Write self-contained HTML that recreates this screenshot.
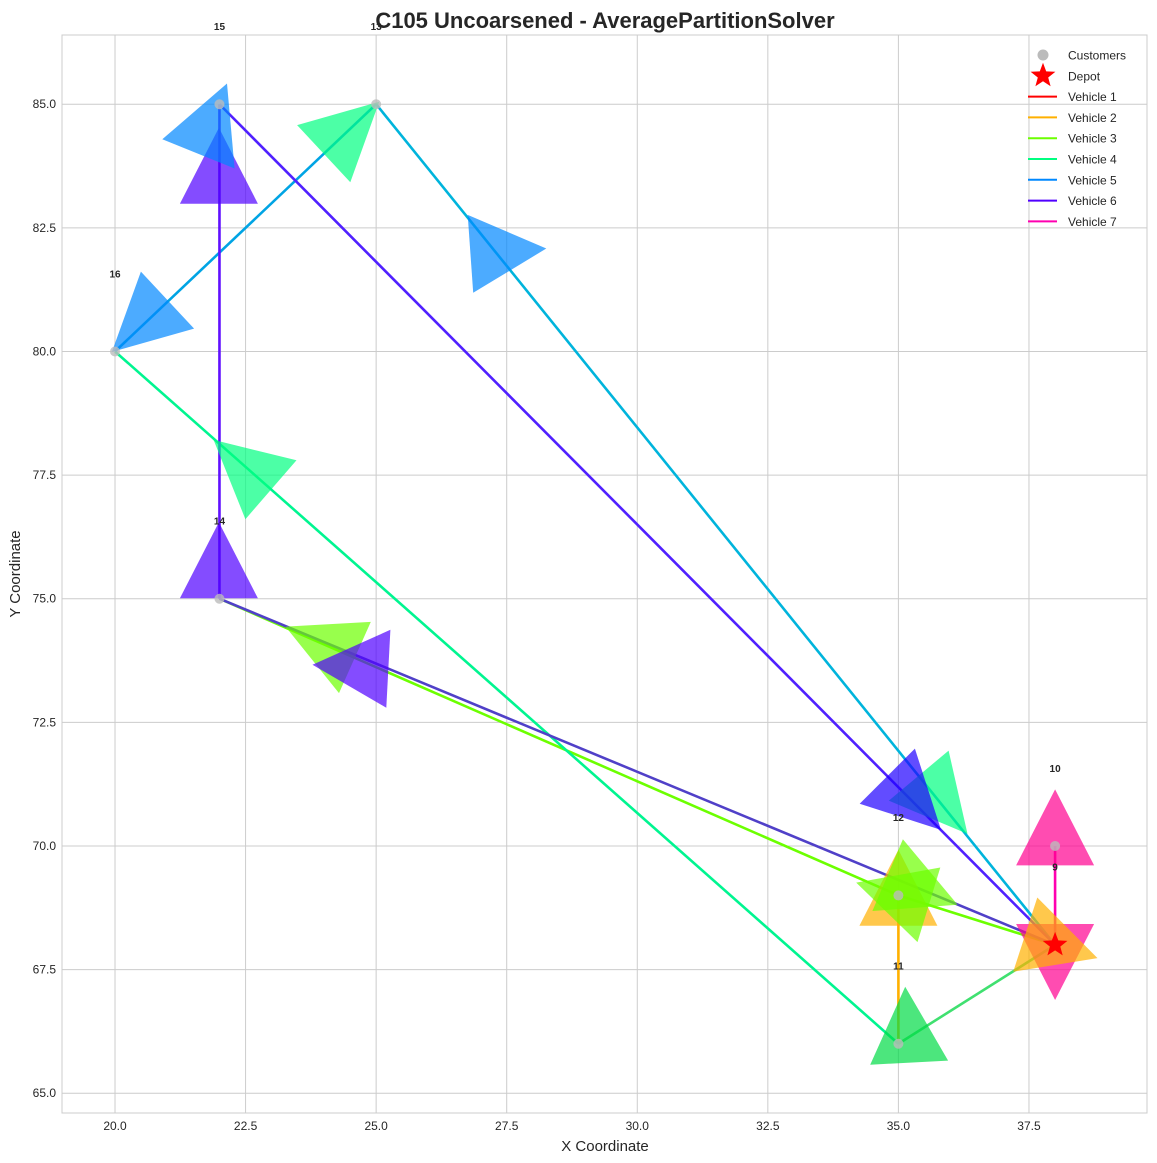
<!DOCTYPE html>
<html><head><meta charset="utf-8"><style>
body{margin:0;background:#fff;}
svg{display:block;font-family:"Liberation Sans",sans-serif;}
</style></head><body>
<svg id="chart" width="1157" height="1163" viewBox="0 0 1157 1163">
<rect x="0" y="0" width="1157" height="1163" fill="#fff"/>
<text x="605" y="28" text-anchor="middle" font-size="22" font-weight="bold" fill="#262626">C105 Uncoarsened - AveragePartitionSolver</text>
<g id="grid"></g>
<rect x="62" y="35" width="1085" height="1078" fill="none" stroke="#cccccc" stroke-width="1"/>
<g id="lines"></g>
<g id="arrows"></g>
<g id="nodes"></g>
<g id="ticks"></g>
<text x="605" y="1151" text-anchor="middle" font-size="15" fill="#262626">X Coordinate</text>
<text x="20" y="574" text-anchor="middle" font-size="15" fill="#262626" transform="rotate(-90 20 574)">Y Coordinate</text>
<g id="legend"></g>
</svg>
<script>
const xTicks=[20,22.5,25,27.5,30,32.5,35,37.5];
const yTicks=[65,67.5,70,72.5,75,77.5,80,82.5,85];
const customerIds=[9,10,11,12,13,14,15,16];
const customerX=[38,38,35,35,25,22,22,20];
const customerY=[68,70,66,69,85,75,85,80];
const depotXY=[38,68];
const vehicleNames=["Vehicle 1","Vehicle 2","Vehicle 3","Vehicle 4","Vehicle 5","Vehicle 6","Vehicle 7"];
const vehicleColors=["#ff0000","#ffb000","#6cff00","#00ff80","#0088ff","#5000ff","#ff00b0"];
const segFrom=[[35,69],[22,75],[35,69],[20,80],[35,66],[25,85],[20,80],[22,75],[22,85],[22,75],[38,70]];
const segTo=[[35,66],[35,69],[38,68],[35,66],[38,68],[38,68],[25,85],[22,85],[38,68],[38,68],[38,68]];
const segColor=["#ffb000","#6cff00","#6cff00","#00f590","#40e070","#00b4dc","#00a4e4","#6010ff","#5020ff","#5040c8","#ff00b0"];
const arrowX=[38,38,35.0,37.89,35.24,35.12,24.15,24.75,21.99,21.99,21.78,20.65,27.29,24.35,22.62,35.7,35.13,35.18];
const arrowY=[70.12,67.91,68.9,68.05,69.21,68.96,74.02,73.61,75.52,83.5,84.47,80.69,82.01,84.35,77.54,71.03,71.05,66.13];
const arrowAng=[-90,90,-90,18,23,197,204,183,-90,-90,-68,137,-4,-43,221,50,45,-93];
const arrowColor=["#ff0090","#ff0090","#ffb000","#ffb000","#6cff00","#6cff00","#6cff00","#5000ff","#5000ff","#5000ff","#0088ff","#0088ff","#0088ff","#00ff80","#00ff80","#00ff80","#2000ff","#00dc46"];

const X0=18.985,X1=39.76,Y0=64.6,Y1=86.4,L=62,R=1147,T=35,B=1113;
const sx=v=>L+(v-X0)/(X1-X0)*(R-L);
const sy=v=>B-(v-Y0)/(Y1-Y0)*(B-T);
const NS="http://www.w3.org/2000/svg";
function mk(tag,parent,attrs){const e=document.createElementNS(NS,tag);for(const k in attrs)e.setAttribute(k,attrs[k]);document.getElementById(parent).appendChild(e);return e;}

xTicks.forEach(t=>{
  const g=mk("line","grid",{x1:sx(t),x2:sx(t),y1:T,y2:B,stroke:"#cccccc","stroke-width":1});
  
  
  const tx=mk("text","ticks",{x:sx(t),y:B+17,"text-anchor":"middle","font-size":12,fill:"#262626"});
  tx.textContent=t.toFixed(1);
  
  
});
yTicks.forEach(t=>{
  const g=mk("line","grid",{x1:L,x2:R,y1:sy(t),y2:sy(t),stroke:"#cccccc","stroke-width":1});
  
  
  const tx=mk("text","ticks",{x:L-6,y:sy(t)+4,"text-anchor":"end","font-size":12,fill:"#262626"});
  tx.textContent=t.toFixed(1);
  
  
});
segFrom.forEach((f,i)=>{
  const l=mk("line","lines",{x1:sx(f[0]),y1:sy(f[1]),x2:sx(segTo[i][0]),y2:sy(segTo[i][1]),stroke:segColor[i],"stroke-width":2.6});
  
  
});
arrowX.forEach((x,i)=>{
  const cx=sx(x),cy=sy(arrowY[i]),a=arrowAng[i]*Math.PI/180;
  const h=76,w=78,ux=Math.cos(a),uy=Math.sin(a),px=-uy,py=ux;
  const tip=[cx+ux*h*2/3,cy+uy*h*2/3],bm=[cx-ux*h/3,cy-uy*h/3];
  const pts=[tip,[bm[0]+px*w/2,bm[1]+py*w/2],[bm[0]-px*w/2,bm[1]-py*w/2]].map(p=>p[0].toFixed(1)+","+p[1].toFixed(1)).join(" ");
  const p=mk("polygon","arrows",{points:pts,fill:arrowColor[i],"fill-opacity":0.7});
  
  
});
customerIds.forEach((id,i)=>{
  const c=mk("circle","nodes",{cx:sx(customerX[i]),cy:sy(customerY[i]),r:5,fill:"#bbbbbb","fill-opacity":0.8});
  
  
  const t=mk("text","nodes",{x:sx(customerX[i]),y:sy(customerY[i]+1.5),"text-anchor":"middle","font-size":10,"font-weight":"bold",fill:"#262626"});
  t.textContent=id;
  
  
});
function star(cx,cy,ro,ri){let s=[];for(let k=0;k<10;k++){const r=k%2?ri:ro,a=-Math.PI/2+k*Math.PI/5;s.push((cx+r*Math.cos(a)).toFixed(1)+","+(cy+r*Math.sin(a)).toFixed(1));}return s.join(" ");}
const d=mk("polygon","nodes",{points:star(sx(depotXY[0]),sy(depotXY[1]),13,5.5),fill:"#ff0000"});



const lg=[["Customers"],["Depot"]].concat(vehicleNames.map(n=>[n]));
lg.forEach((e,i)=>{
  const y=55+i*20.8;
  if(i===0){const c=mk("circle","legend",{cx:1043,cy:y,r:5.5,fill:"#bbbbbb"});}
  else if(i===1){const s=mk("polygon","legend",{points:star(1043,y,13,5.5),fill:"#ff0000"});}
  else{const l=mk("line","legend",{x1:1028,x2:1057,y1:y,y2:y,stroke:vehicleColors[i-2],"stroke-width":2});}
  const t=mk("text","legend",{x:1068,y:y+4.5,"font-size":12,fill:"#262626"});
  t.textContent=e[0];
  
  
});
</script>
</body></html>
